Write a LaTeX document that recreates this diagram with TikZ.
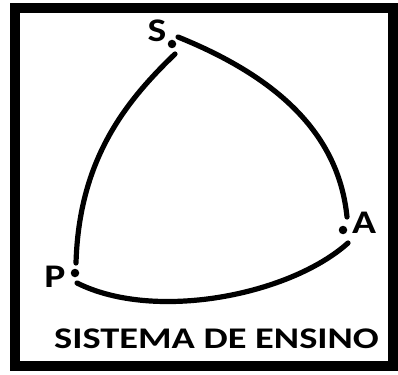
\documentclass[tikz,border=0pt]{standalone}
\usepackage{fontspec}
\setmainfont{Carlito}
\usetikzlibrary{positioning}

\begin{document}
\begin{tikzpicture}[x=1pt,y=-1pt,
			dot/.style={
				circle,
				fill=black,
				inner sep=0pt,
				minimum size=8.5pt
			},
			curve/.style={
				line width=5.2pt,
				line cap=round
			},
			vertex/.style={
				inner sep=0pt,
				xscale=1.2,
				font=\fontsize{33}{33}\selectfont\bfseries
			},
			caption/.style={
				inner sep=0pt,
				xscale=1.28,
				font=\fontsize{30}{30}\selectfont\bfseries
			}
			]
			\useasboundingbox (0,0) rectangle (398,374);
			\draw[line width=10pt] (15,8.5) rectangle (393,366);
			\node[dot] (S) at (172,44) {};
			\node[dot] (A) at (343,230) {};
			\node[dot] (P) at (75,273) {};
			\node[vertex] (lS) at (157,31) {S};
			\node[vertex] (lA) at (364,223) {A};
			\node[vertex] (lP) at (55,277) {P};
			\coordinate (sa1) at (178,37);
			\coordinate (sa2) at (347,217);
			\coordinate (ap1) at (348,243);
			\coordinate (ap2) at (77,283);
			\coordinate (ps1) at (76,263);
			\coordinate (ps2) at (175,54);
			\draw[curve] (sa1) .. controls (282,79) and (339,137) .. (sa2);
			\draw[curve] (ap1) .. controls (290,295) and (155,322) .. (ap2);
			\draw[curve] (ps1) .. controls (79,160) and (125,102) .. (ps2);
			\node[caption] (title) at (216.5,339) {SISTEMA DE ENSINO};
		\end{tikzpicture}
\end{document}
